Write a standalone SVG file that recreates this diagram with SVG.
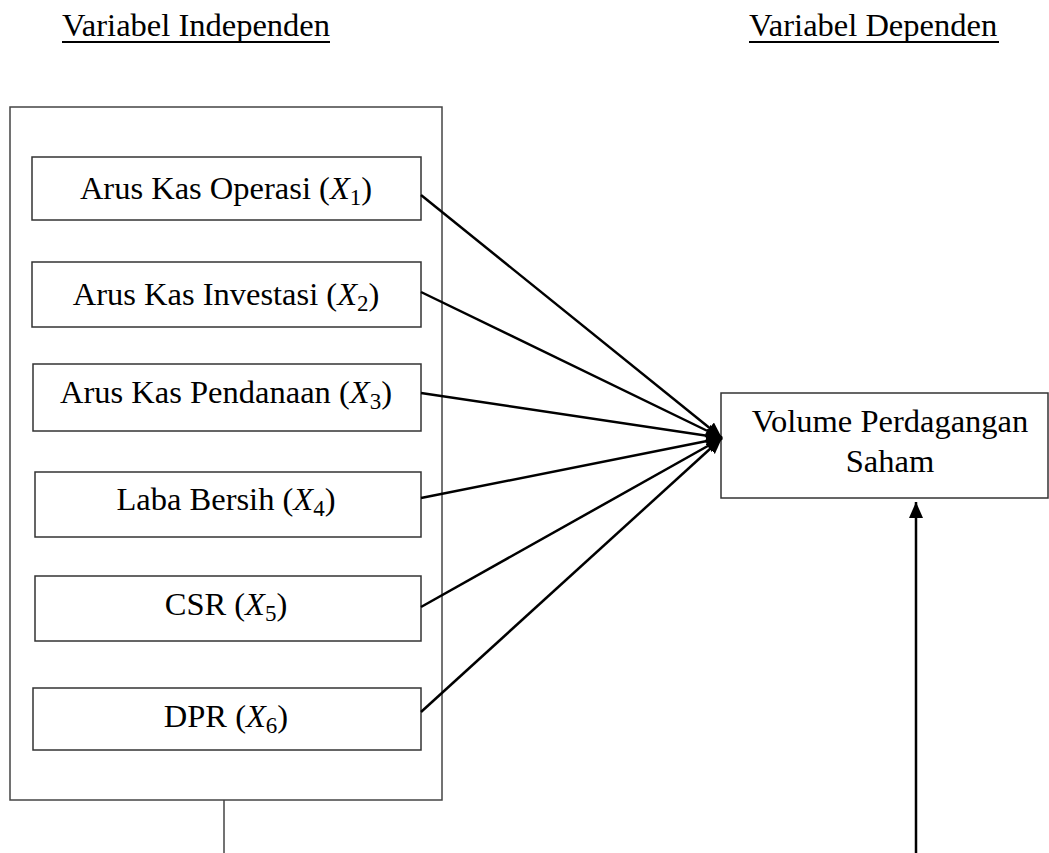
<svg xmlns="http://www.w3.org/2000/svg" width="1049" height="853" viewBox="0 0 1049 853" font-family="'Liberation Serif', 'DejaVu Serif', serif">
<style>
text{fill:#000;}
.t{font-size:32.5px;}
.lbl{font-size:32.5px;text-anchor:middle;}
.x{font-style:italic;}
.s{font-size:23px;}
.box{fill:#fff;stroke:#333;stroke-width:1.5;}
.outer{fill:none;stroke:#444;stroke-width:1.5;}
.ul{stroke:#000;stroke-width:1.8;}
.conn{stroke:#000;stroke-width:2.5;fill:none;}
.plain{stroke:#444;stroke-width:1.5;fill:none;}
</style>
<defs>
<marker id="ah" markerUnits="userSpaceOnUse" markerWidth="18" markerHeight="16" refX="16" refY="7" orient="auto">
<path d="M0,0 L16,7 L0,14 Z" fill="#000"/>
</marker>
</defs>
<g id="titles">
<text class="t" x="62" y="36">Variabel Independen</text>
<line class="ul" x1="62" y1="42" x2="330" y2="42"/>
<text class="t" x="749" y="36">Variabel Dependen</text>
<line class="ul" x1="749" y1="42" x2="999" y2="42"/>
</g>
<g id="independent-group">
<rect class="outer" x="10" y="107" width="432" height="693"/>
</g>
<g id="x1">
<rect class="box" x="32" y="157" width="389" height="63"/>
<text class="lbl" x="226" y="199">Arus Kas Operasi (<tspan class="x">X</tspan><tspan class="s" dy="6">1</tspan><tspan dy="-6">)</tspan></text>
</g>
<g id="x2">
<rect class="box" x="32" y="262" width="389" height="65"/>
<text class="lbl" x="226" y="305">Arus Kas Investasi (<tspan class="x">X</tspan><tspan class="s" dy="6">2</tspan><tspan dy="-6">)</tspan></text>
</g>
<g id="x3">
<rect class="box" x="33" y="364" width="388" height="67"/>
<text class="lbl" x="226" y="403">Arus Kas Pendanaan (<tspan class="x">X</tspan><tspan class="s" dy="6">3</tspan><tspan dy="-6">)</tspan></text>
</g>
<g id="x4">
<rect class="box" x="35" y="472" width="386" height="65"/>
<text class="lbl" x="226" y="510">Laba Bersih (<tspan class="x">X</tspan><tspan class="s" dy="6">4</tspan><tspan dy="-6">)</tspan></text>
</g>
<g id="x5">
<rect class="box" x="35" y="576" width="386" height="65"/>
<text class="lbl" x="226" y="615">CSR (<tspan class="x">X</tspan><tspan class="s" dy="6">5</tspan><tspan dy="-6">)</tspan></text>
</g>
<g id="x6">
<rect class="box" x="33" y="688" width="388" height="62"/>
<text class="lbl" x="226" y="727">DPR (<tspan class="x">X</tspan><tspan class="s" dy="6">6</tspan><tspan dy="-6">)</tspan></text>
</g>
<g id="y">
<rect class="box" x="721" y="393" width="327" height="105"/>
<text class="lbl" x="890" y="432">Volume Perdagangan</text>
<text class="lbl" x="890" y="472">Saham</text>
</g>
<g id="connectors">
<line class="conn" x1="421" y1="195" x2="722" y2="438" marker-end="url(#ah)"/>
<line class="conn" x1="421" y1="292" x2="722" y2="438" marker-end="url(#ah)"/>
<line class="conn" x1="421" y1="393" x2="722" y2="438" marker-end="url(#ah)"/>
<line class="conn" x1="421" y1="498" x2="722" y2="438" marker-end="url(#ah)"/>
<line class="conn" x1="421" y1="607" x2="722" y2="438" marker-end="url(#ah)"/>
<line class="conn" x1="421" y1="712" x2="722" y2="438" marker-end="url(#ah)"/>
<line class="plain" x1="224" y1="800" x2="224" y2="853"/>
<line class="conn" x1="916" y1="853" x2="916" y2="502" marker-end="url(#ah)"/>
</g>
</svg>
